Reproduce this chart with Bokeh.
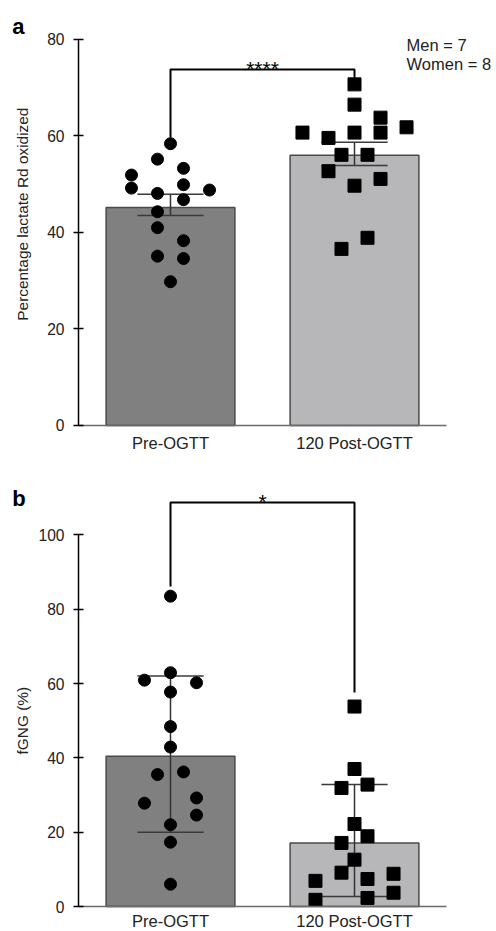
from bokeh.plotting import figure
from bokeh.models import Range1d, FixedTicker, Label
from bokeh.layouts import column
from bokeh.embed import file_html
from bokeh.resources import INLINE

categories = ["Pre-OGTT", "120 Post-OGTT"]

# ---- panel a: percentage lactate Rd oxidized ----
a_pre = [58.4, 55.2, 53.3, 51.9, 49.2, 49.9, 48.8, 48.1, 46.8, 44.3, 41.0, 38.3, 35.1, 34.6, 29.8]
a_pre_slot = [0, -1, 1, -3, -3, 1, 3, -1, 1, -1, -1, 1, -1, 1, 0]
a_post = [70.7, 66.5, 63.8, 61.8, 60.7, 59.6, 60.7, 60.7, 56.1, 56.1, 52.7, 51.1, 49.7, 38.9, 36.6]
a_post_slot = [0, 0, 2, 4, -4, -2, 0, 2, -1, 1, -2, 2, 0, 1, -1]
a_mean = [45.2, 56.0]
a_err_low = [43.5, 53.9]
a_err_high = [47.9, 58.7]
a_bracket = [59.7, 73.8, 72.0]
a_sig = "****"
a_ticks = [0, 20, 40, 60, 80]
a_ylabel = "Percentage lactate Rd oxidized"
a_note = ["Men = 7", "Women = 8"]

# ---- panel b: fGNG ----
b_pre = [83.5, 62.9, 60.9, 60.2, 57.7, 48.4, 42.9, 35.5, 36.2, 27.8, 29.2, 24.6, 22.0, 17.3, 6.0]
b_pre_slot = [0, 0, -2, 2, 0, 0, 0, -1, 1, -2, 2, 2, 0, 0, 0]
b_post = [53.8, 37.0, 31.9, 32.8, 22.2, 18.9, 17.1, 12.6, 9.1, 7.4, 8.8, 6.9, 3.7, 2.3, 1.8]
b_post_slot = [0, 0, -1, 1, 0, 1, -1, 0, -1, 1, 3, -3, 3, 1, -3]
b_mean = [40.4, 17.1]
b_err_low = [20.0, 2.7]
b_err_high = [62.0, 32.8]
b_bracket = [86.1, 108.7, 57.6]
b_sig = "*"
b_ticks = [0, 20, 40, 60, 80, 100]
b_ylabel = "fGNG (%)"

FONT = "Liberation Sans"
TXT = "#222222"
BAR_COLORS = ["#808080", "#b7b7b9"]
STEP = 0.0707      # horizontal spacing of swarm slots (data units)
CAP = 0.18         # half width of error-bar caps

W = 496
X_LO, X_HI = -0.9239, 1.7717   # frame covers the whole figure; axes are fixed inside


def make_panel(letter, pre, pre_slot, post, post_slot, mean, elo, ehi, bracket,
               sig, ticks, ylabel, ylabel_y, y_lo, y_hi, height, xlab_standoff,
               letter_y, note=None, note_y=None):
    p = figure(title=None, width=W, height=height,
               min_border=0, min_border_left=0, min_border_right=0,
               min_border_top=0, min_border_bottom=0,
               x_range=Range1d(X_LO, X_HI), y_range=Range1d(y_lo, y_hi),
               output_backend="svg", toolbar_location=None)
    p.outline_line_color = None
    p.xgrid.visible = False
    p.ygrid.visible = False
    p.background_fill_color = "white"
    p.border_fill_color = "white"

    # bars
    p.vbar(x=[0, 1], top=mean, bottom=0, width=0.7, fill_color=BAR_COLORS,
           line_color="#4a4a4a", line_width=1.5)

    # error bars
    xs = [0, 1]
    p.segment(x0=xs, y0=elo, x1=xs, y1=ehi, line_color="#333333", line_width=1.5)
    p.segment(x0=[x - CAP for x in xs], y0=elo, x1=[x + CAP for x in xs], y1=elo,
              line_color="#3a3a3a", line_width=1.5)
    p.segment(x0=[x - CAP for x in xs], y0=ehi, x1=[x + CAP for x in xs], y1=ehi,
              line_color="#3a3a3a", line_width=1.5)

    # individual points
    p.scatter(x=[0 + s * STEP for s in pre_slot], y=pre, marker="circle",
              size=12, fill_color="black", line_color="black")
    p.scatter(x=[1 + s * STEP for s in post_slot], y=post, marker="square",
              size=13, fill_color="black", line_color="black")

    # significance bracket
    p.line(x=[0, 0, 1, 1], y=[bracket[0], bracket[1], bracket[1], bracket[2]],
           line_color="black", line_width=2)
    p.add_layout(Label(x=0.5, y=bracket[1], y_offset=1, text=sig,
                       text_align="center", text_baseline="alphabetic",
                       text_font=FONT, text_font_size="21px", text_color="black"))

    # panel letter
    p.add_layout(Label(x=-0.86, y=letter_y, text=letter, text_align="left",
                       text_baseline="alphabetic", text_font=FONT,
                       text_font_size="22px", text_font_style="bold",
                       text_color="black"))
    if note:
        for txt, ny in zip(note, note_y):
            p.add_layout(Label(x=1.283, y=ny, text=txt, text_align="left",
                               text_baseline="alphabetic", text_font=FONT,
                               text_font_size="16.5px", text_color=TXT))

    # y-axis title (rotated)
    p.add_layout(Label(x=-0.807, y=ylabel_y, text=ylabel, angle=90,
                       angle_units="deg", text_align="center",
                       text_baseline="middle", text_font=FONT,
                       text_font_size="15.4px", text_color=TXT))

    # y axis (fixed at the left edge of the category span)
    ya = p.yaxis[0]
    ya.fixed_location = -0.5
    ya.ticker = FixedTicker(ticks=ticks)
    ya.bounds = (0, ticks[-1])
    ya.major_label_text_font = FONT
    ya.major_label_text_font_size = "15.6px"
    ya.major_label_text_color = TXT
    ya.major_label_standoff = 9
    ya.major_tick_in = 5
    ya.major_tick_out = 5
    ya.minor_tick_line_color = None
    ya.axis_line_width = 1.5
    ya.major_tick_line_width = 1.5

    # x axis (fixed at zero)
    xa = p.xaxis[0]
    xa.fixed_location = 0
    xa.ticker = FixedTicker(ticks=[0, 1])
    xa.bounds = (-0.5, 1.5)
    xa.major_label_overrides = {0: categories[0], 1: categories[1]}
    xa.major_label_text_font = FONT
    xa.major_label_text_font_size = "16.5px"
    xa.major_label_text_color = TXT
    xa.major_label_standoff = xlab_standoff
    xa.major_tick_in = 0
    xa.major_tick_out = 0
    xa.minor_tick_line_color = None
    xa.axis_line_color = "#6a6a6a"
    xa.axis_line_width = 1.5
    return p


# panel a: 0 at y=425px, 4.825 px per unit, figure spans 0..460 px
pa = make_panel("a", a_pre, a_pre_slot, a_post, a_post_slot, a_mean,
                a_err_low, a_err_high, a_bracket, a_sig, a_ticks, a_ylabel, 43.8,
                -7.254, 88.08, 460, 9, 82.7,
                note=a_note, note_y=[78.96, 74.96])

# panel b: 0 at y=906px, 3.717 px per unit, figure spans 460..931 px
pb = make_panel("b", b_pre, b_pre_slot, b_post, b_post_slot, b_mean,
                b_err_low, b_err_high, b_bracket, b_sig, b_ticks, b_ylabel, 50.0,
                -6.726, 120.0, 471, 5, 109.7)

layout = column(pa, pb, spacing=0)
open("out.html", "w").write(file_html(layout, INLINE))
